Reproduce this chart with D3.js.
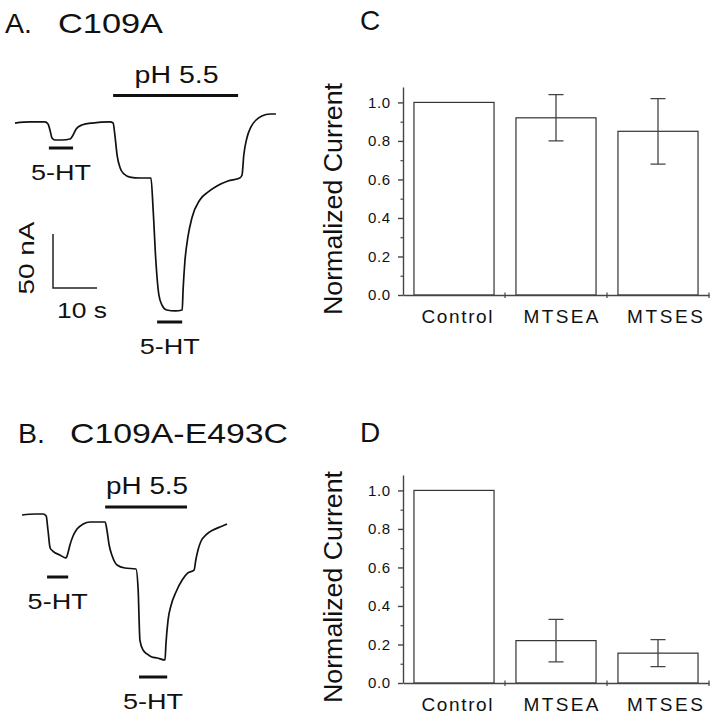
<!DOCTYPE html>
<html>
<head>
<meta charset="utf-8">
<script src="https://cdn.jsdelivr.net/npm/d3@7"></script>
<style>
body { margin: 0; background: #fff; }
text { font-family: "Liberation Sans", Arial, sans-serif; fill: #111; }
</style>
</head>
<body>
<div id="fig"></div>
<script>
// current traces, [time (s), current (nA)]
var traceA = [[0,-1.9],[3.4,-0.9],[6.8,-0.9],[7.5,-2.8],[8.0,-9.3],[8.4,-15.7],[9.1,-17.6],[10.7,-17.6],
  [12.5,-16.7],[13.2,-13.0],[13.9,-7.4],[15.2,-3.7],[17.5,-1.9],[21.6,-0.9],[22.3,-1.9],[22.7,-13.0],
  [23.2,-31.5],[23.9,-43.5],[24.8,-49.1],[26.1,-51.9],[28.4,-52.8],[30.9,-52.8],[31.4,-82.4],[32.0,-128.7],
  [32.7,-161.1],[33.4,-170.4],[34.5,-175.0],[36.4,-175.9],[38.0,-175.0],[38.2,-156.5],[38.6,-130.6],
  [39.3,-107.4],[40.2,-89.8],[42.0,-73.1],[43.9,-65.7],[45.9,-60.2],[48.4,-55.6],[51.1,-52.8],[51.6,-50.0],
  [52.0,-31.5],[52.7,-15.7],[53.6,-5.6],[54.8,0.9],[56.1,4.6],[58.0,6.5],[59.3,6.5]];
var traceB = [[0,-0.9],[3.0,0],[4.8,0],[5.5,-1.9],[5.9,-14.8],[6.4,-31.5],[7.0,-34.3],[8.6,-38.0],
  [10.0,-40.7],[10.5,-35.2],[10.9,-28.7],[11.6,-20.4],[12.5,-13.9],[13.9,-9.3],[15.5,-7.4],[18.9,-7.4],
  [19.3,-14.8],[19.8,-28.7],[20.5,-38.9],[21.6,-47.2],[23.4,-50.0],[25.9,-50.9],[26.4,-70.4],[26.8,-116.7],
  [27.5,-125.9],[28.4,-129.6],[29.5,-132.4],[30.7,-133.3],[32.5,-135.2],[32.7,-121.3],[33.2,-98.1],
  [33.9,-84.3],[35.0,-72.2],[36.4,-61.1],[37.7,-54.6],[39.1,-51.9],[39.5,-42.6],[40.0,-33.3],[40.7,-25.0],
  [41.8,-19.4],[43.4,-14.8],[45.0,-12.0],[46.6,-9.3]];

// application periods (s)
var phA = [22.3, 50.7];
var htA = [[7.7, 13.2], [32.3, 38.0]];
var phB = [18.9, 37.5];
var htB = [[5.7, 10.5], [26.6, 33.0]];

// bar charts
var categories = ["Control", "MTSEA", "MTSES"];
var meanC = [1.0, 0.92, 0.85];
var errC = [0, 0.12, 0.17];
var meanD = [1.0, 0.22, 0.155];
var errD = [0, 0.11, 0.07];
var yTicks = [0, 0.2, 0.4, 0.6, 0.8, 1.0];
var yMinor = [0.1, 0.3, 0.5, 0.7, 0.9];
var catWidth = [71, 75, 76];

var svg = d3.select("#fig").append("svg").attr("width", 717).attr("height", 719);

// the scanned lettering is wider than Arial, stretch glyphs to the measured widths
function stretch(sel, w) {
  return sel.attr("textLength", w).attr("lengthAdjust", "spacingAndGlyphs");
}

function drawTrace(data, x0, y0, ph, ht, phY, htY, phW) {
  // 10 s = 44 px, 50 nA = 54 px
  var x = d3.scaleLinear().domain([0, 10]).range([x0, x0 + 44]);
  var y = d3.scaleLinear().domain([0, -50]).range([y0, y0 + 54]);
  var line = d3.line().x(d => x(d[0])).y(d => y(d[1])).curve(d3.curveMonotoneX);

  svg.append("path").datum(data)
    .attr("d", line)
    .attr("fill", "none")
    .attr("stroke", "#111")
    .attr("stroke-width", 1.7)
    .attr("stroke-linejoin", "round");

  // pH bar
  svg.append("line")
    .attr("x1", x(ph[0])).attr("x2", x(ph[1]))
    .attr("y1", phY).attr("y2", phY)
    .attr("stroke", "#111").attr("stroke-width", 3);
  stretch(svg.append("text")
    .attr("x", (x(ph[0]) + x(ph[1])) / 2 + 1).attr("y", phY - 13)
    .attr("text-anchor", "middle")
    .style("font-size", "23px")
    .text("pH 5.5"), phW);

  // 5-HT bars
  ht.forEach(function(h, i) {
    svg.append("line")
      .attr("x1", x(h[0])).attr("x2", x(h[1]))
      .attr("y1", htY[i]).attr("y2", htY[i])
      .attr("stroke", "#111").attr("stroke-width", 3);
    stretch(svg.append("text")
      .attr("x", (x(h[0]) + x(h[1])) / 2).attr("y", htY[i] + 32)
      .attr("text-anchor", "middle")
      .style("font-size", "22.5px")
      .text("5-HT"), 60);
  });
  return {x: x, y: y};
}

var sA = drawTrace(traceA, 15, 121, phA, htA, 95.5, [148, 322], 84);
drawTrace(traceB, 22, 514, phB, htB, 507, [577, 677], 82);

// scale bar
var sbX = 53, sbY = 288;
svg.append("path")
  .attr("d", "M" + sbX + "," + (sbY - (sA.y(-50) - sA.y(0))) + "V" + sbY + "H" + (sbX + sA.x(10) - sA.x(0)))
  .attr("fill", "none").attr("stroke", "#222").attr("stroke-width", 1.5);
stretch(svg.append("text")
  .attr("transform", "translate(34,258) rotate(-90)")
  .attr("text-anchor", "middle")
  .style("font-size", "22.5px")
  .text("50 nA"), 73);
stretch(svg.append("text")
  .attr("x", 57).attr("y", 318)
  .style("font-size", "22.5px")
  .text("10 s"), 50);

// titles
var tA = svg.append("text").attr("y", 33).style("font-size", "28.5px");
tA.append("tspan").attr("x", 5).text("A.");
stretch(tA.append("tspan").attr("x", 58).text("C109A"), 105);
var tB = svg.append("text").attr("y", 443).style("font-size", "28.5px");
tB.append("tspan").attr("x", 18).text("B.");
stretch(tB.append("tspan").attr("x", 70).text("C109A-E493C"), 218);

function barChart(top, means, errs, letter, letterY) {
  var g = svg.append("g").attr("transform", "translate(0," + top + ")");
  var x = d3.scaleBand().domain(categories).range([403, 709])
    .paddingInner(0.215).paddingOuter(0.1075);
  var y = d3.scaleLinear().domain([0, 1.08]).range([295, 87]);

  g.selectAll("rect.bar").data(categories).enter().append("rect")
    .attr("class", "bar")
    .attr("x", d => x(d))
    .attr("width", x.bandwidth())
    .attr("y", (d, i) => y(means[i]))
    .attr("height", (d, i) => y(0) - y(means[i]))
    .attr("fill", "#fff")
    .attr("stroke", "#333")
    .attr("stroke-width", 1.2);

  // error bars
  categories.forEach(function(c, i) {
    if (!errs[i]) return;
    var cx = x(c) + x.bandwidth() / 2;
    var lo = y(means[i] - errs[i]), hi = y(means[i] + errs[i]);
    g.append("path")
      .attr("d", "M" + cx + "," + lo + "V" + hi + "M" + (cx - 7.5) + "," + hi + "H" + (cx + 7.5) +
        "M" + (cx - 7.5) + "," + lo + "H" + (cx + 7.5))
      .attr("fill", "none").attr("stroke", "#444").attr("stroke-width", 1.3);
  });

  // y axis
  var ya = g.append("g").attr("transform", "translate(403,0)")
    .call(d3.axisLeft(y).tickValues(yTicks).tickSize(5).tickSizeOuter(0).tickPadding(8)
      .tickFormat(d3.format(".1f")));
  ya.selectAll("text").style("font-size", "15px")
    .style("font-family", "'Liberation Sans', Arial, sans-serif").attr("fill", "#222")
    .attr("textLength", 22).attr("lengthAdjust", "spacing");
  ya.selectAll("line, path").attr("stroke", "#444").attr("stroke-width", 1.4);

  var ym = g.append("g").attr("transform", "translate(403,0)")
    .call(d3.axisLeft(y).tickValues(yMinor).tickSize(2.5).tickFormat(""));
  ym.select(".domain").remove();
  ym.selectAll("line").attr("stroke", "#444").attr("stroke-width", 1.2);

  // x axis
  var xa = g.append("g").attr("transform", "translate(0," + y(0) + ")")
    .call(d3.axisBottom(x).tickSize(0).tickSizeOuter(0).tickPadding(14.5));
  xa.select(".domain").attr("stroke", "#444").attr("stroke-width", 1.4);
  xa.selectAll("text").style("font-size", "19px")
    .style("font-family", "'Liberation Sans', Arial, sans-serif").attr("fill", "#222")
    .attr("dx", (d, i) => 3 + i * 2)
    .attr("textLength", (d, i) => catWidth[i]).attr("lengthAdjust", "spacing");
  categories.forEach(function(c) {
    var bx = x(c) + x.bandwidth() + (x.step() - x.bandwidth()) / 2;
    xa.append("line").attr("x1", bx).attr("x2", bx).attr("y1", -2.5).attr("y2", 3)
      .attr("stroke", "#444").attr("stroke-width", 1.2);
  });

  stretch(g.append("text")
    .attr("transform", "translate(342," + ((y(0) + y(1.08)) / 2 + 8) + ") rotate(-90)")
    .attr("text-anchor", "middle")
    .style("font-size", "26.5px")
    .text("Normalized Current"), 232);

  svg.append("text").attr("x", 360).attr("y", letterY)
    .style("font-size", "28px").text(letter);
}

barChart(0, meanC, errC, "C", 30);
barChart(388, meanD, errD, "D", 442);
</script>
</body>
</html>
